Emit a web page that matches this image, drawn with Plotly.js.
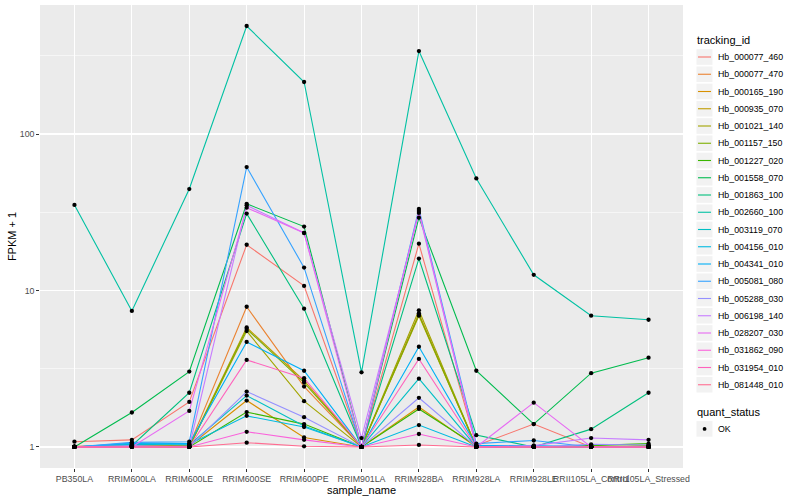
<!DOCTYPE html>
<html><head><meta charset="utf-8">
<script src="https://cdn.plot.ly/plotly-3.0.1.min.js"></script>
<style>html,body{margin:0;padding:0;background:#fff}#chart{width:800px;height:500px}</style>
</head><body><div id="chart"></div>
<script>
// x categories
const categories = ["PB350LA","RRIM600LA","RRIM600LE","RRIM600SE","RRIM600PE","RRIM901LA","RRIM928BA","RRIM928LA","RRIM928LE","RRII105LA_Control","RRII105LA_Stressed"];
// y tick labels
const yTickVals = [1, 10, 100];
const yTickText = ["1", "10", "100"];
const yMinorVals = [3.1623, 31.623, 316.23];

const trackingIds = ["Hb_000077_460","Hb_000077_470","Hb_000165_190","Hb_000935_070","Hb_001021_140","Hb_001157_150","Hb_001227_020","Hb_001558_070","Hb_001863_100","Hb_002660_100","Hb_003119_070","Hb_004156_010","Hb_004341_010","Hb_005081_080","Hb_005288_030","Hb_006198_140","Hb_028207_030","Hb_031862_090","Hb_031954_010","Hb_081448_010"];
const colors = ["#F8766D","#EA8331","#D89000","#C09B00","#A3A500","#7CAE00","#39B600","#00BB4E","#00BF7D","#00C1A3","#00BFC4","#00BAE0","#00B0F6","#35A2FF","#9590FF","#C77CFF","#E76BF3","#FA62DB","#FF62BC","#FF6C91"];
const quantStatus = ["OK"];

// FPKM + 1 values per tracking id, in category order
const Hb_000077_460 = [1.08, 1.11, 1.94, 19.6, 10.7, 1.0, 19.9, 1.02, 1.40, 1.0, 1.0];
const Hb_000077_470 = [1.01, 1.03, 1.02, 7.87, 2.43, 1.0, 7.14, 1.0, 1.0, 1.0, 1.0];
const Hb_000165_190 = [1.0, 1.02, 1.01, 1.98, 1.15, 1.0, 1.80, 1.0, 1.0, 1.0, 1.0];
const Hb_000935_070 = [1.0, 1.02, 1.01, 5.8, 2.65, 1.0, 6.9, 1.0, 1.0, 1.0, 1.0];
const Hb_001021_140 = [1.0, 1.01, 1.0, 5.5, 1.96, 1.0, 7.47, 1.0, 1.0, 1.0, 1.0];
const Hb_001157_150 = [1.0, 1.01, 1.0, 5.67, 2.58, 1.0, 7.0, 1.0, 1.0, 1.0, 1.02];
const Hb_001227_020 = [1.0, 1.0, 1.0, 1.67, 1.40, 1.0, 1.75, 1.02, 1.0, 1.02, 1.05];
const Hb_001558_070 = [1.0, 1.66, 3.03, 35.8, 25.6, 1.0, 29.2, 3.07, 1.40, 2.96, 3.72];
const Hb_001863_100 = [1.0, 1.02, 2.22, 31.0, 7.65, 1.0, 16.0, 1.19, 1.0, 1.30, 2.22];
const Hb_002660_100 = [35.2, 7.4, 44.5, 490, 215, 3.0, 339, 52, 12.6, 6.9, 6.5];
const Hb_003119_070 = [1.0, 1.04, 1.03, 2.13, 1.36, 1.0, 2.73, 1.0, 1.0, 1.0, 1.0];
const Hb_004156_010 = [1.0, 1.05, 1.04, 1.58, 1.34, 1.0, 1.38, 1.0, 1.0, 1.0, 1.0];
const Hb_004341_010 = [1.0, 1.06, 1.05, 4.69, 3.07, 1.0, 4.37, 1.02, 1.02, 1.0, 1.0];
const Hb_005081_080 = [1.0, 1.07, 1.08, 61.5, 14.0, 1.0, 33.2, 1.05, 1.10, 1.0, 1.0];
const Hb_005288_030 = [1.0, 1.02, 1.0, 2.26, 1.55, 1.0, 2.06, 1.0, 1.0, 1.04, 1.03];
const Hb_006198_140 = [1.0, 1.0, 1.0, 35.0, 23.3, 1.14, 31.3, 1.0, 1.02, 1.14, 1.11];
const Hb_028207_030 = [1.0, 1.0, 1.70, 33.8, 23.3, 1.0, 32.2, 1.0, 1.92, 1.0, 1.0];
const Hb_031862_090 = [1.0, 1.0, 1.0, 1.25, 1.11, 1.0, 1.21, 1.0, 1.0, 1.0, 1.0];
const Hb_031954_010 = [1.0, 1.0, 1.0, 3.6, 2.75, 1.0, 3.65, 1.0, 1.0, 1.0, 1.0];
const Hb_081448_010 = [1.0, 1.0, 1.0, 1.065, 1.01, 1.0, 1.03, 1.0, 1.0, 1.0, 1.0];

const seriesValues = [Hb_000077_460,Hb_000077_470,Hb_000165_190,Hb_000935_070,Hb_001021_140,Hb_001157_150,Hb_001227_020,Hb_001558_070,Hb_001863_100,Hb_002660_100,Hb_003119_070,Hb_004156_010,Hb_004341_010,Hb_005081_080,Hb_005288_030,Hb_006198_140,Hb_028207_030,Hb_031862_090,Hb_031954_010,Hb_081448_010];

const traces = trackingIds.map((id, i) => ({
  type: 'scatter', mode: 'lines', name: id,
  x: categories, y: seriesValues[i],
  line: {color: colors[i], width: 1.1},
  showlegend: false, hoverinfo: 'x+y+name'
}));

const px = [], py = [];
seriesValues.forEach(v => v.forEach((val, j) => { px.push(categories[j]); py.push(val); }));
traces.push({
  type: 'scatter', mode: 'markers', name: quantStatus[0], x: px, y: py,
  marker: {color: '#000000', size: 4.3, symbol: 'circle'},
  showlegend: false
});

// ---- plot geometry (pixels) ----
const W = 800, H = 500;
const M = {l: 40, r: 116.5, t: 5.3, b: 31.7};
const plotW = W - M.l - M.r, plotH = H - M.t - M.b;
const PX = x => (x - M.l) / plotW;
const PY = y => (H - M.b - y) / plotH;

// ---- manual ggplot-style legends ----
const FONT = 'Liberation Sans, Arial, sans-serif';
const shapes = [], annotations = [];
const keyX0 = 697, keyX1 = 713, textX = 717, rowH = 17.25, keyH = 15.6;
function addTitle(text, yc) {
  annotations.push({xref: 'paper', yref: 'paper', x: PX(keyX0 - 1), y: PY(yc), xanchor: 'left', yanchor: 'middle',
    text: text, showarrow: false, font: {family: FONT, size: 11, color: '#000000'}});
}
function addKey(yc, label) {
  shapes.push({type: 'rect', xref: 'paper', yref: 'paper', x0: PX(keyX0), x1: PX(keyX1),
    y0: PY(yc - keyH / 2), y1: PY(yc + keyH / 2), fillcolor: '#F2F2F2', line: {width: 0}, layer: 'above'});
  annotations.push({xref: 'paper', yref: 'paper', x: PX(textX), y: PY(yc), xanchor: 'left', yanchor: 'middle',
    text: label, showarrow: false, font: {family: FONT, size: 8.8, color: '#000000'}});
}
addTitle('tracking_id', 40.5);
trackingIds.forEach((id, i) => {
  const yc = 57.3 + i * rowH;
  addKey(yc, id);
  shapes.push({type: 'line', xref: 'paper', yref: 'paper', x0: PX(keyX0 + 1.5), x1: PX(keyX1 - 1.5),
    y0: PY(yc), y1: PY(yc), line: {color: colors[i], width: 1.1}, layer: 'above'});
});
addTitle('quant_status', 412.5);
addKey(429.2, quantStatus[0]);
shapes.push({type: 'circle', xref: 'paper', yref: 'paper', x0: PX(703.2), x1: PX(707.0),
  y0: PY(431.1), y1: PY(427.3), fillcolor: '#000000', line: {width: 0}, layer: 'above'});

const tickFont = {family: FONT, size: 8.8, color: '#4D4D4D'};
const layout = {
  width: W, height: H,
  margin: {l: M.l, r: M.r, t: M.t, b: M.b, pad: 0},
  paper_bgcolor: '#FFFFFF', plot_bgcolor: '#EBEBEB',
  font: {family: FONT, size: 11, color: '#000000'},
  xaxis: {
    type: 'category', categoryorder: 'array', categoryarray: categories,
    range: [-0.6, categories.length - 0.4],
    tickangle: 0, tickfont: tickFont,
    ticks: 'outside', ticklen: 2.75, tickwidth: 1, tickcolor: '#333333',
    showgrid: true, gridcolor: '#FFFFFF', gridwidth: 1.1,
    zeroline: false, showline: false, automargin: false,
    title: {text: 'sample_name', font: {size: 11, color: '#000000'}, standoff: 0}
  },
  yaxis: {
    type: 'log', range: [-0.1345, 2.8245],
    tickvals: yTickVals, ticktext: yTickText, tickfont: tickFont,
    ticks: 'outside', ticklen: 2.75, tickwidth: 1, tickcolor: '#333333',
    showgrid: true, gridcolor: '#FFFFFF', gridwidth: 1.1,
    minor: {tickvals: yMinorVals, showgrid: true, gridcolor: '#FFFFFF', gridwidth: 0.55, ticks: ''},
    zeroline: false, showline: false, automargin: false,
    title: {text: 'FPKM + 1', font: {size: 11, color: '#000000'}, standoff: 0}
  },
  shapes: shapes,
  annotations: annotations,
  showlegend: false
};

Plotly.newPlot('chart', traces, layout, {displayModeBar: false, staticPlot: true});
</script>
</body></html>
